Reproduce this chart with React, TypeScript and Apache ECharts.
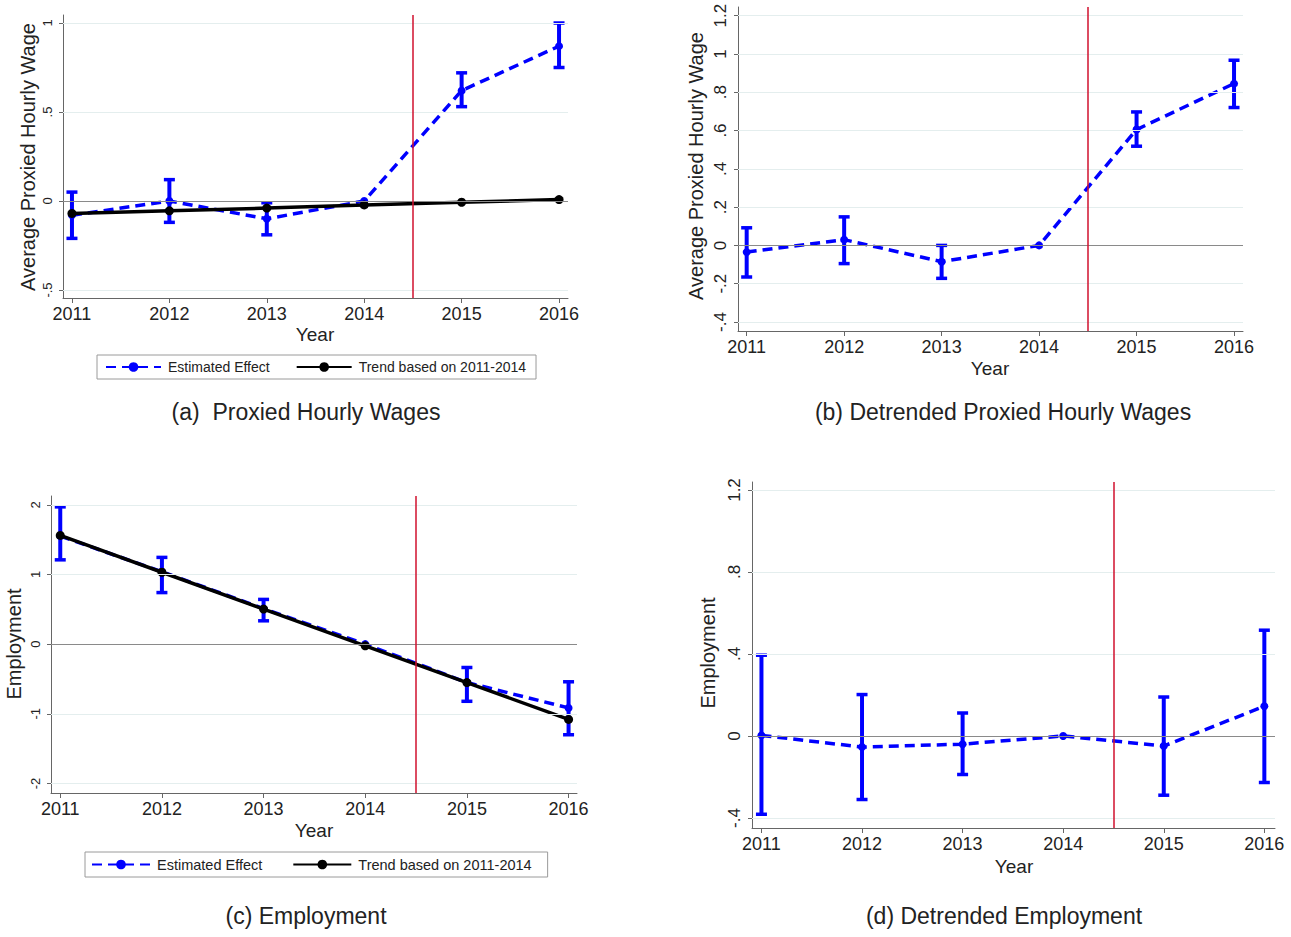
import React, { useEffect, useRef } from "react";
import * as echarts from "echarts";

// ---------- data ----------
const years = [2011, 2012, 2013, 2014, 2015, 2016];

// (a) Proxied Hourly Wages
const aEst = [-0.08, 0.0, -0.1, 0.0, 0.62, 0.87];
const aLo = [-0.21, -0.12, -0.19, null, 0.53, 0.75];
const aHi = [0.05, 0.12, -0.01, null, 0.72, 1.0];
const aTrend = [-0.07, -0.055, -0.04, -0.022, -0.007, 0.008];
const aTicks = [-0.5, 0, 0.5, 1];
const aTickLabels = ["-.5", "0", ".5", "1"];

// (b) Detrended Proxied Hourly Wages
const bEst = [-0.035, 0.03, -0.085, 0.0, 0.605, 0.845];
const bLo = [-0.165, -0.095, -0.172, null, 0.518, 0.72];
const bHi = [0.092, 0.149, 0.0, null, 0.697, 0.967];
const bTicks = [-0.4, -0.2, 0, 0.2, 0.4, 0.6, 0.8, 1, 1.2];
const bTickLabels = ["-.4", "-.2", "0", ".2", ".4", ".6", ".8", "1", "1.2"];

// (c) Employment
const cEst = [1.55, 1.04, 0.51, 0.0, -0.55, -0.915];
const cLo = [1.21, 0.74, 0.335, null, -0.82, -1.3];
const cHi = [1.97, 1.245, 0.642, null, -0.335, -0.54];
const cTrend = [1.56, 1.032, 0.504, -0.024, -0.552, -1.08];
const cTicks = [-2, -1, 0, 1, 2];
const cTickLabels = ["-2", "-1", "0", "1", "2"];

// (d) Detrended Employment
const dEst = [0.003, -0.054, -0.04, 0.0, -0.049, 0.145];
const dLo = [-0.382, -0.31, -0.188, null, -0.289, -0.227];
const dHi = [0.394, 0.202, 0.112, null, 0.19, 0.516];
const dTicks = [-0.4, 0, 0.4, 0.8, 1.2];
const dTickLabels = ["-.4", "0", ".4", ".8", "1.2"];

const cutoff = 2014.5;
const estName = "Estimated Effect";
const trendName = "Trend based on 2011-2014";
const captions = [
  "(a)  Proxied Hourly Wages",
  "(b) Detrended Proxied Hourly Wages",
  "(c) Employment",
  "(d) Detrended Employment",
];
const yTitles = [
  "Average Proxied Hourly Wage",
  "Average Proxied Hourly Wage",
  "Employment",
  "Employment",
];

// ---------- layout ----------
const FONT = '"Liberation Sans", Arial, Helvetica, sans-serif';
const BLUE = "#0000ff";
const panels = [
  {
    grid: { left: 63, top: 15, width: 505, height: 283 },
    x: [2010.908, 2016.092], y: [-0.545, 1.045], yFont: 13,
    est: aEst, lo: aLo, hi: aHi, trend: aTrend, ticks: aTicks, tickLabels: aTickLabels,
    yTitle: { x: 28, y: 157 }, xTitle: { x: 315, y: 334 }, caption: { x: 306, y: 412 },
  },
  {
    grid: { left: 738, top: 7, width: 505, height: 324 },
    x: [2010.911, 2016.092], y: [-0.447, 1.245], yFont: 17,
    est: bEst, lo: bLo, hi: bHi, trend: null, ticks: bTicks, tickLabels: bTickLabels,
    yTitle: { x: 696, y: 166 }, xTitle: { x: 990, y: 368 }, caption: { x: 1003, y: 412 },
  },
  {
    grid: { left: 51, top: 496, width: 526, height: 297 },
    x: [2010.909, 2016.083], y: [-2.136, 2.126], yFont: 13,
    est: cEst, lo: cLo, hi: cHi, trend: cTrend, ticks: cTicks, tickLabels: cTickLabels,
    yTitle: { x: 14, y: 644 }, xTitle: { x: 314, y: 830 }, caption: { x: 306, y: 916 },
  },
  {
    grid: { left: 752, top: 482, width: 523, height: 346 },
    x: [2010.906, 2016.106], y: [-0.449, 1.239], yFont: 17,
    est: dEst, lo: dLo, hi: dHi, trend: null, ticks: dTicks, tickLabels: dTickLabels,
    yTitle: { x: 708, y: 653 }, xTitle: { x: 1014, y: 866 }, caption: { x: 1004, y: 916 },
  },
];

function buildOption() {
  const grids: any[] = [];
  const xAxes: any[] = [];
  const yAxes: any[] = [];
  const series: any[] = [];
  const graphics: any[] = [];

  panels.forEach((p, i) => {
    grids.push({ ...p.grid, containLabel: false });
    xAxes.push({
      type: "value",
      gridIndex: i,
      min: p.x[0],
      max: p.x[1],
      axisLine: { onZero: false, lineStyle: { color: "#666", width: 1 } },
      axisTick: { customValues: years, length: 5, lineStyle: { color: "#666" } },
      axisLabel: {
        customValues: years,
        color: "#222",
        fontFamily: FONT,
        fontSize: 18,
        margin: 7,
        formatter: (v: number) => String(Math.round(v)),
      },
      splitLine: { show: false },
    });
    yAxes.push({
      type: "value",
      gridIndex: i,
      min: p.y[0],
      max: p.y[1],
      axisLine: { show: true, onZero: false, lineStyle: { color: "#666", width: 1 } },
      axisTick: { show: true, customValues: p.ticks, length: 4, lineStyle: { color: "#666" } },
      axisLabel: {
        customValues: p.ticks,
        rotate: 90,
        color: "#222",
        fontFamily: FONT,
        fontSize: p.yFont,
        margin: 9,
        formatter: (v: number) => {
          const k = p.ticks.findIndex((t) => Math.abs(t - v) < 1e-6);
          return k >= 0 ? p.tickLabels[k] : "";
        },
      },
      splitLine: { show: false },
    });

    const ptData = years.map((y, k) => [y, p.est[k]]);

    // grid lines (helper, bottom)
    series.push({
      name: "grid" + i,
      type: "line",
      xAxisIndex: i,
      yAxisIndex: i,
      data: ptData,
      showSymbol: false,
      symbol: "none",
      lineStyle: { opacity: 0, width: 0 },
      silent: true,
      z: 0,
      markLine: {
        silent: true,
        symbol: "none",
        label: { show: false },
        animation: false,
        data: p.ticks.map((t) => ({
          yAxis: t,
          lineStyle: {
            color: t === 0 ? "#8a8a8a" : "#e4eeee",
            width: 1.2,
            type: "solid",
          },
        })),
      },
    });

    // error bars
    series.push({
      name: "ci" + i,
      type: "custom",
      xAxisIndex: i,
      yAxisIndex: i,
      z: 2,
      silent: true,
      data: years
        .map((y, k) => [y, p.lo[k], p.hi[k]])
        .filter((d) => d[1] !== null && d[2] !== null),
      encode: { x: 0, y: [1, 2] },
      renderItem: (params: any, api: any) => {
        const x = api.value(0);
        const lo = api.coord([x, api.value(1)]);
        const hi = api.coord([x, api.value(2)]);
        const w = 5.5;
        return {
          type: "group",
          children: [
            { type: "line", shape: { x1: lo[0], y1: lo[1], x2: hi[0], y2: hi[1] }, style: { stroke: BLUE, lineWidth: 4 } },
            { type: "line", shape: { x1: lo[0] - w, y1: lo[1], x2: lo[0] + w, y2: lo[1] }, style: { stroke: BLUE, lineWidth: 3.5 } },
            { type: "line", shape: { x1: hi[0] - w, y1: hi[1], x2: hi[0] + w, y2: hi[1] }, style: { stroke: BLUE, lineWidth: 3.5 } },
          ],
        };
      },
    });

    // estimated effect
    series.push({
      name: estName,
      type: "line",
      xAxisIndex: i,
      yAxisIndex: i,
      z: 3,
      data: ptData,
      symbol: "circle",
      symbolSize: 8,
      itemStyle: { color: BLUE },
      lineStyle: { color: BLUE, width: 3.5, type: [10, 6] },
    });

    if (p.trend) {
      series.push({
        name: trendName,
        type: "line",
        xAxisIndex: i,
        yAxisIndex: i,
        z: 4,
        data: years.map((y, k) => [y, p.trend![k]]),
        symbol: "circle",
        symbolSize: 9,
        itemStyle: { color: "#000" },
        lineStyle: { color: "#000", width: 3.5, type: "solid" },
      });
    }

    // cutoff line (helper, top)
    series.push({
      name: "cut" + i,
      type: "line",
      xAxisIndex: i,
      yAxisIndex: i,
      data: ptData,
      showSymbol: false,
      symbol: "none",
      lineStyle: { opacity: 0, width: 0 },
      silent: true,
      z: 6,
      markLine: {
        silent: true,
        symbol: "none",
        label: { show: false },
        animation: false,
        data: [{ xAxis: cutoff, lineStyle: { color: "#d0102e", width: 1.5, type: "solid" } }],
      },
    });

    graphics.push({
      type: "text",
      x: p.yTitle.x,
      y: p.yTitle.y,
      rotation: Math.PI / 2,
      style: {
        text: yTitles[i],
        font: `20px ${FONT}`,
        fill: "#222",
        align: "center",
        verticalAlign: "middle",
        textAlign: "center",
        textVerticalAlign: "middle",
      },
    });
    graphics.push({
      type: "text",
      x: p.xTitle.x,
      y: p.xTitle.y,
      style: {
        text: "Year",
        font: `19px ${FONT}`,
        fill: "#222",
        align: "center",
        verticalAlign: "middle",
        textAlign: "center",
        textVerticalAlign: "middle",
      },
    });
    graphics.push({
      type: "text",
      x: p.caption.x,
      y: p.caption.y,
      style: {
        text: captions[i],
        font: `23px ${FONT}`,
        fill: "#222",
        align: "center",
        verticalAlign: "middle",
        textAlign: "center",
        textVerticalAlign: "middle",
      },
    });
  });

  const legendBase = {
    data: [estName, trendName],
    orient: "horizontal",
    itemWidth: 55,
    itemHeight: 12,
    itemGap: 26,
    padding: [5, 10, 5, 8],
    borderColor: "#9a9a9a",
    borderWidth: 1,
    borderRadius: 0,
    backgroundColor: "#fff",
    selectedMode: false,
    textStyle: { fontFamily: FONT, fontSize: 14, color: "#222", padding: [0, 0, 0, 2] },
  };

  return {
    animation: false,
    backgroundColor: "#ffffff",
    grid: grids,
    xAxis: xAxes,
    yAxis: yAxes,
    series,
    legend: [
      { ...legendBase, left: 97, top: 355 },
      { ...legendBase, left: 85, top: 852, itemWidth: 58, itemGap: 30, padding: [5, 16, 5, 6], textStyle: { ...legendBase.textStyle, fontSize: 14.5 } },
    ],
    graphic: { elements: graphics },
  };
}

export default function App() {
  const ref = useRef<HTMLDivElement>(null);
  useEffect(() => {
    if (!ref.current) return;
    const chart = echarts.init(ref.current, undefined, { renderer: "svg" });
    chart.setOption(buildOption() as any);
    return () => chart.dispose();
  }, []);
  return (
    <div
      ref={ref}
      style={{ position: "absolute", left: 0, top: 0, width: 1291, height: 937, background: "#fff" }}
    />
  );
}
